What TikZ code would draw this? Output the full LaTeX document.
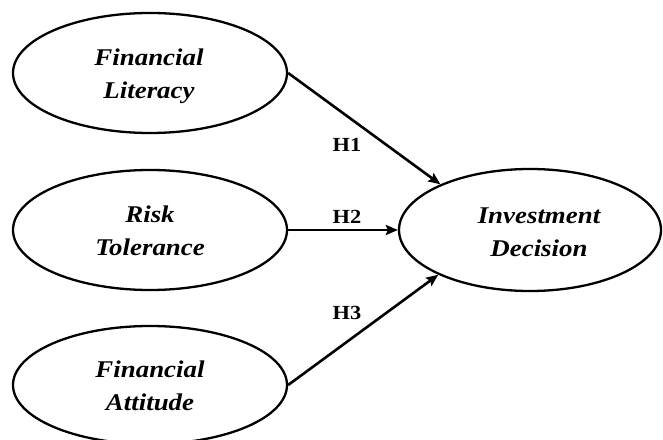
\documentclass[tikz,border=0pt]{standalone}
\usepackage{fontspec}
\setmainfont{Liberation Serif}
\usetikzlibrary{shapes.geometric,arrows.meta}
\newcommand{\twolines}[2]{\scalebox{1.12}[1]{\begin{tabular}{@{}c@{}}#1\\#2\end{tabular}}}
\begin{document}
\begin{tikzpicture}[x=1pt,y=1pt,
  oval/.style={ellipse,draw=black,line width=2.3pt,inner sep=0pt},
  ovtext/.style={font=\fontsize{24}{33}\selectfont\bfseries\itshape,inner sep=0pt},
  hyp/.style={font=\fontsize{20}{24}\selectfont\bfseries,inner sep=0pt,anchor=base},
  arr/.style={line width=2.6pt,-{Stealth[length=12pt,width=10pt,inset=2pt]}}]
\useasboundingbox (0,0) rectangle (663,439);
\fill[white] (0,0) rectangle (663,439);
% ovals (y measured from top: y_tikz = 439 - y_img)
\node[oval,minimum width=274pt,minimum height=120pt] (FL) at (150,366) {};
\node[oval,minimum width=274pt,minimum height=120pt] (RT) at (150,209) {};
\node[oval,minimum width=274pt,minimum height=118pt] (FA) at (150,54) {};
\node[oval,minimum width=262pt,minimum height=122pt] (ID) at (530,209) {};
% texts
\node[ovtext] (FLt) at (149,364) {\twolines{Financial}{Literacy}};
\node[ovtext] (RTt) at (150,207) {\twolines{Risk}{Tolerance}};
\node[ovtext] (FAt) at (150,52) {\twolines{Financial}{Attitude}};
\node[ovtext] (IDt) at (539,206) {\twolines{Investment}{Decision}};
% arrows
\draw[arr] (FL.east) -- (ID.153);
\draw[arr] (RT.east) -- (ID.west);
\draw[arr] (FA.east) -- (ID.206);
% hypothesis labels
\node[hyp] (H1) at (347,287) {\scalebox{1.12}[1]{H1}};
\node[hyp] (H2) at (347,215) {\scalebox{1.12}[1]{H2}};
\node[hyp] (H3) at (347,119) {\scalebox{1.12}[1]{H3}};
\end{tikzpicture}
\end{document}
